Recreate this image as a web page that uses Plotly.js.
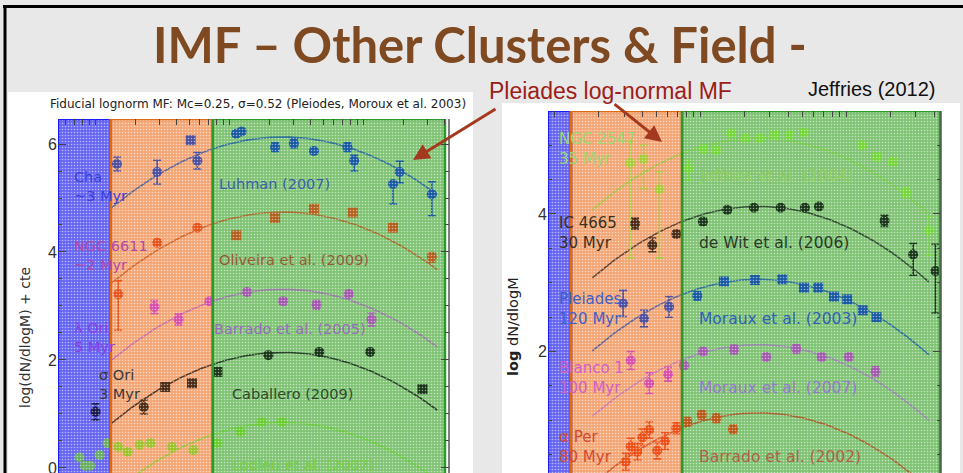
<!DOCTYPE html>
<html><head><meta charset="utf-8">
<script src="https://cdn.plot.ly/plotly-3.0.1.min.js"></script>
<style>html,body{margin:0;padding:0;background:#e8e8e8;}#chart{width:963px;height:473px;}</style>
</head><body><div id="chart"></div>
<script>
// ---------- model parameters (from the plot title) ----------
const Mc = 0.25;
const sigma = 0.52;

// ---------- mass regimes (log M boundaries) ----------
const regionEdgesLeft  = [-2.28, -1.886, -1.125, 0.608];
const regionEdgesRight = [-2.044, -1.886, -1.125, 0.643];

// ---------- LEFT PANEL data (log M, log dN/dlogM + cte) ----------
const chaLogM   = [-1.84, -1.54, -1.29, -1.24, -0.95, -0.91, -0.66, -0.52, -0.37, -0.12, -0.07, 0.22, 0.27, 0.51];
const chaVal    = [5.63, 5.48, 6.07, 5.69, 6.19, 6.23, 5.94, 6.01, 5.87, 5.94, 5.69, 5.26, 5.48, 5.07];
const chaErrHi  = [0.13, 0.22, 0.06, 0.15, 0.05, 0.05, 0.08, 0.08, 0.06, 0.08, 0.10, 0.04, 0.20, 0.23];
const chaErrLo  = [0.13, 0.22, 0.06, 0.15, 0.05, 0.05, 0.08, 0.08, 0.06, 0.08, 0.19, 0.37, 0.20, 0.40];

const ngcLogM   = [-1.83, -1.54, -1.24, -0.95, -0.66, -0.37, -0.08, 0.22, 0.51];
const ngcVal    = [3.22, 4.17, 4.45, 4.31, 4.63, 4.80, 4.73, 4.45, 3.91];
const ngcErrHi  = [0.25, 0.05, 0.05, 0.05, 0.05, 0.05, 0.05, 0.05, 0.07];
const ngcErrLo  = [0.67, 0.05, 0.05, 0.05, 0.05, 0.05, 0.05, 0.05, 0.10];

const lamLogM   = [-1.56, -1.38, -1.15, -0.87, -0.60, -0.35, -0.11, 0.06];
const lamVal    = [2.98, 2.75, 3.09, 3.26, 3.09, 3.02, 3.22, 2.75];
const lamErr    = [0.12, 0.10, 0.05, 0.05, 0.06, 0.08, 0.05, 0.12];

const sigLogM   = [-2.00, -1.64, -1.48, -1.28, -1.09, -0.71, -0.33, 0.05, 0.44];
const sigVal    = [1.04, 1.13, 1.50, 1.57, 1.78, 2.09, 2.15, 2.15, 1.46];
const sigErr    = [0.15, 0.13, 0.05, 0.05, 0.05, 0.03, 0.03, 0.03, 0.05];

const lodLogM   = [-2.12, -2.08, -2.04, -1.97, -1.91, -1.83, -1.76, -1.67, -1.59, -1.43, -1.27, -1.09, -0.92, -0.76, -0.61];
const lodVal    = [0.20, 0.04, 0.04, 0.24, 0.46, 0.39, 0.30, 0.43, 0.46, 0.39, 0.33, 0.46, 0.67, 0.85, 0.85];

const leftPeaks = [6.13, 4.74, 3.31, 2.14, 0.84];   // Cha, NGC6611, lambda Ori, sigma Ori, Lodieu
const leftCurveSpan = [-1.886, 0.55];

// ---------- RIGHT PANEL data ----------
const n2547LogM  = [-1.48, -1.39, -1.28, -1.08, -0.98, -0.89, -0.79, -0.69, -0.59, -0.49, -0.39, -0.29, 0.11, 0.21, 0.32, 0.41, 0.57];
const n2547Val   = [4.74, 4.80, 4.36, 4.66, 4.94, 4.93, 5.17, 5.10, 5.10, 5.15, 5.15, 5.18, 5.00, 4.83, 4.76, 4.31, 3.76];
const n2547ErrHi = [0.31, 0.20, 0.25, 0.12, 0.05, 0.05, 0.04, 0.04, 0.04, 0.04, 0.04, 0.04, 0.05, 0.05, 0.05, 0.07, 0.20];
const n2547ErrLo = [1.38, 0.43, 1.00, 0.17, 0.05, 0.05, 0.04, 0.04, 0.04, 0.04, 0.04, 0.04, 0.05, 0.05, 0.05, 0.07, 0.36];

const ic4665LogM  = [-1.447, -1.329, -1.164, -0.982, -0.815, -0.632, -0.449, -0.283, -0.187, 0.263, 0.459, 0.612];
const ic4665Val   = [3.86, 3.55, 3.71, 3.89, 4.06, 4.09, 4.09, 4.09, 4.11, 3.90, 3.41, 3.17];
const ic4665ErrHi = [0.08, 0.10, 0.05, 0.05, 0.03, 0.03, 0.03, 0.03, 0.03, 0.08, 0.16, 0.39];
const ic4665ErrLo = [0.08, 0.10, 0.05, 0.05, 0.03, 0.03, 0.03, 0.03, 0.03, 0.08, 0.30, 0.61];

const pleLogM = [-1.529, -1.386, -1.214, -1.021, -0.838, -0.625, -0.438, -0.29, -0.192, -0.084, 0.007, 0.114, 0.208];
const pleVal  = [2.70, 2.48, 2.65, 2.81, 3.02, 3.04, 3.05, 2.93, 2.93, 2.80, 2.76, 2.60, 2.50];
const pleErr  = [0.19, 0.12, 0.15, 0.06, 0.05, 0.05, 0.05, 0.03, 0.03, 0.03, 0.03, 0.03, 0.03];

const blaLogM = [-1.477, -1.351, -1.221, -1.112, -0.982, -0.769, -0.548, -0.342, -0.168, 0.018, 0.201];
const blaVal  = [1.87, 1.54, 1.67, 1.80, 2.00, 2.03, 1.92, 2.04, 1.92, 1.92, 1.71];
const blaErr  = [0.13, 0.15, 0.10, 0.05, 0.05, 0.06, 0.05, 0.06, 0.05, 0.05, 0.07];

const aperLogM = [-1.511, -1.477, -1.432, -1.397, -1.351, -1.295, -1.242, -1.164, -1.089, -0.99, -0.89, -0.776];
const aperVal  = [0.40, 0.62, 0.545, 0.755, 0.86, 0.56, 0.70, 0.885, 0.98, 1.08, 1.03, 0.87];
const aperErr  = [0.12, 0.12, 0.12, 0.12, 0.12, 0.12, 0.12, 0.08, 0.06, 0.06, 0.06, 0.06];

const rightPeaks = [5.10, 4.11, 3.05, 2.10, 1.11];  // NGC2547, IC4665, Pleiades, Blanco1, alpha Per
const rightCurveSpan = [-1.74, 0.566];

// ---------- text ----------
const slideTitle = 'IMF – Other Clusters &amp; Field -';
const leftPlotTitle = 'Fiducial lognorm MF: Mc=0.25, σ=0.52 (Pleiodes, Moroux et al. 2003)';
const leftYTitle = 'log(dN/dlogM) + cte';
const rightYTitle = '<b>log</b> dN/dlogM';
const leftClusterLabels = ['Cha<br>~3 Myr', 'NGC 6611<br>~2 Myr', 'λ Ori<br>5 Myr', 'σ Ori<br>3 Myr'];
const leftRefLabels = ['Luhman (2007)', 'Oliveira et al. (2009)', 'Barrado et al. (2005)', 'Caballero (2009)', 'Lodieu et al. (2007)'];
const rightClusterLabels = ['NGC 2547<br>35 Myr', 'IC 4665<br>30 Myr', 'Pleiades<br>120 Myr', 'Blanco 1<br>100 Myr', 'α Per<br>80 Myr'];
const rightRefLabels = ['Jeffries et al. (2004)', 'de Wit et al. (2006)', 'Moraux et al. (2003)', 'Moraux et al. (2007)', 'Barrado et al. (2002)'];

// =====================================================================
const W = 963, H = 473;
const LX = [-2.28, 0.638], LY = [-0.093, 6.463];
const RX = [-2.044, 0.650], RY = [0.235, 5.497];

function lognorm(peak, span) {
  const xs = [], ys = [], n = 80, lmc = Math.log10(Mc);
  for (let i = 0; i <= n; i++) {
    const x = span[0] + (span[1] - span[0]) * i / n;
    xs.push(x);
    ys.push(peak - Math.LOG10E * (x - lmc) * (x - lmc) / (2 * sigma * sigma));
  }
  return {xs, ys};
}

const regionUnder = ['#7e7ef8', '#f8bb98', '#a2d493'];
const regionOver  = ['rgba(40,40,230,0.28)', 'rgba(230,110,30,0.28)', 'rgba(40,150,40,0.28)'];
const regionLine  = ['#1a1aff', '#e06a10', '#2a9a2a'];

function regions(edges, yr, xa, ya, over) {
  const out = [];
  for (let i = 0; i < 3; i++) {
    const a = edges[i], b = edges[i + 1];
    const t = {
      type: 'scatter', mode: 'lines', xaxis: xa, yaxis: ya, hoverinfo: 'skip', showlegend: false,
      x: [a, b, b, a, a], y: [yr[0] - 1, yr[0] - 1, yr[1], yr[1], yr[0] - 1], fill: 'toself'
    };
    if (over) {
      t.fillcolor = regionOver[i];
      t.fillpattern = {shape: '.', fgcolor: '#ffffff', fgopacity: 0.55, size: 3, solidity: 0.22, bgcolor: regionOver[i]};
      t.line = {color: regionLine[i], width: 2.5};
    } else {
      t.fillcolor = regionUnder[i];
      t.line = {width: 0};
    }
    out.push(t);
  }
  return out;
}

function pts(x, y, hi, lo, color, symbols, xa, ya) {
  const t = {type: 'scatter', mode: 'markers', x, y, xaxis: xa, yaxis: ya, showlegend: false, hoverinfo: 'skip',
    marker: {color, size: 10, symbol: symbols || 'circle', line: {width: 0}}};
  if (hi) t.error_y = {type: 'data', symmetric: false, array: hi, arrayminus: lo || hi, color, thickness: 1.6, width: 4};
  return t;
}
function curve(peak, span, color, xa, ya) {
  const c = lognorm(peak, span);
  return {type: 'scatter', mode: 'lines', x: c.xs, y: c.ys, xaxis: xa, yaxis: ya, showlegend: false, hoverinfo: 'skip',
    line: {color, width: 1.6}};
}

const leftCurveColors  = ['#3060c0', '#d06030', '#c070d0', '#202020', '#80e040'];
const rightCurveColors = ['#90e050', '#303030', '#3060c0', '#c080e0', '#d05030'];

const C = 'circle', S = 'square';
const traces = [];
traces.push(...regions(regionEdgesLeft, LY, 'x', 'y', false));
traces.push(...regions(regionEdgesRight, RY, 'x2', 'y2', false));
leftPeaks.forEach((p, i) => traces.push(curve(p, leftCurveSpan, leftCurveColors[i], 'x', 'y')));
rightPeaks.forEach((p, i) => traces.push(curve(p, rightCurveSpan, rightCurveColors[i], 'x2', 'y2')));

traces.push(pts(chaLogM, chaVal, chaErrHi, chaErrLo, '#1040d0', [C,C,S,C,C,C,C,C,C,C,C,C,C,C], 'x', 'y'));
traces.push(pts(ngcLogM, ngcVal, ngcErrHi, ngcErrLo, '#e84818', [C,C,C,S,S,S,S,S,C], 'x', 'y'));
traces.push(pts(lamLogM, lamVal, lamErr, null, '#d040e0', null, 'x', 'y'));
traces.push(pts(sigLogM, sigVal, sigErr, null, '#101010', [C,C,S,S,S,C,C,C,S], 'x', 'y'));
traces.push(pts(lodLogM, lodVal, null, null, '#80e030', null, 'x', 'y'));

traces.push(pts(n2547LogM, n2547Val, n2547ErrHi, n2547ErrLo, '#90ee40', null, 'x2', 'y2'));
traces.push(pts(ic4665LogM, ic4665Val, ic4665ErrHi, ic4665ErrLo, '#101010', null, 'x2', 'y2'));
traces.push(pts(pleLogM, pleVal, pleErr, null, '#1040d0', [C,C,C,C,S,S,S,S,S,S,S,S,S], 'x2', 'y2'));
traces.push(pts(blaLogM, blaVal, blaErr, null, '#d040e0', null, 'x2', 'y2'));
traces.push(pts(aperLogM, aperVal, aperErr, null, '#f04010', null, 'x2', 'y2'));

traces.push(...regions(regionEdgesLeft, LY, 'x', 'y', true));
traces.push(...regions(regionEdgesRight, RY, 'x2', 'y2', true));

// top log-mass ticks
const topTicks = [];
for (let d = -3; d <= 0; d++) for (let k = 1; k <= 9; k++) topTicks.push(Math.log10(k * Math.pow(10, d)));

function xax(domain, range) {
  return {domain: domain.map(v => v / W), range, side: 'top', showgrid: false, zeroline: false, showline: false,
    showticklabels: false, ticks: 'inside', ticklen: 6, tickcolor: '#444', tickwidth: 1, tickmode: 'array', tickvals: topTicks, fixedrange: true};
}
function yax(domainTopPx, range, xa) {
  return {domain: [0, 1 - domainTopPx / H], range, anchor: xa, showgrid: false, zeroline: false, showline: false,
    ticks: 'inside', ticklen: 8, tickcolor: '#444', tickwidth: 1, mirror: 'ticks', tickmode: 'linear', tick0: 0, dtick: 2,
    ticklabeloverflow: 'allow',
    minor: {dtick: 0.5, ticks: 'inside', ticklen: 4, tickcolor: '#444'},
    tickfont: {family: 'Liberation Sans, Arial, sans-serif', size: 16, color: '#333'}, fixedrange: true};
}

const fontLbl = 'DejaVu Sans, sans-serif';
const ann = [];
function P(px, py) { return {x: px / W, y: 1 - py / H, xref: 'paper', yref: 'paper'}; }

ann.push(Object.assign(P(480, 44), {text: '<b>' + slideTitle + '</b>', showarrow: false, xanchor: 'center', yanchor: 'middle',
  font: {family: 'Lato, sans-serif', size: 49, color: '#7f4a22'}}));
ann.push(Object.assign(P(487, 91), {text: 'Pleiades log-normal MF', showarrow: false, xanchor: 'left', yanchor: 'middle',
  font: {family: 'Liberation Sans, Arial, sans-serif', size: 23, color: '#9b2018'}}));
ann.push(Object.assign(P(806, 89), {text: 'Jeffries (2012)', showarrow: false, xanchor: 'left', yanchor: 'middle',
  font: {family: 'Liberation Sans, Arial, sans-serif', size: 20, color: '#111'}}));
ann.push(Object.assign(P(258, 104), {text: leftPlotTitle, showarrow: false, xanchor: 'center', yanchor: 'middle',
  font: {family: fontLbl, size: 12, color: '#222'}}));
ann.push(Object.assign(P(25, 338), {text: leftYTitle, textangle: -90, showarrow: false, xanchor: 'center', yanchor: 'middle',
  font: {family: fontLbl, size: 14, color: '#333'}}));
ann.push(Object.assign(P(513, 327), {text: rightYTitle, textangle: -90, showarrow: false, xanchor: 'center', yanchor: 'middle',
  font: {family: fontLbl, size: 14.5, color: '#222'}}));
// arrows
ann.push(Object.assign(P(413, 160), {text: '', showarrow: true, ax: 84, ay: -52, arrowhead: 2, arrowsize: 1.1, arrowwidth: 3, arrowcolor: '#a3391f'}));
ann.push(Object.assign(P(662, 142), {text: '', showarrow: true, ax: -49, ay: -39, arrowhead: 2, arrowsize: 1.1, arrowwidth: 3, arrowcolor: '#a3391f'}));

// in-plot labels (data coordinates)
const leftClusterPos = [[-2.176, 5.21], [-2.176, 3.93], [-2.176, 2.42], [-1.989, 1.54]];
const leftClusterCol = ['#3a40d8', '#b04aa8', '#8a40e0', '#3a3a3a'];
leftClusterLabels.forEach((t, i) => ann.push({x: leftClusterPos[i][0], y: leftClusterPos[i][1], xref: 'x', yref: 'y', text: t,
  showarrow: false, xanchor: 'left', yanchor: 'middle', align: 'left', font: {family: fontLbl, size: 14.5, color: leftClusterCol[i]}}));
const leftRefPos = [[-1.093, 5.26], [-1.093, 3.85], [-1.131, 2.57], [-0.996, 1.37], [-0.996, 0.056]];
const leftRefCol = ['#3c5ea8', '#9a5a38', '#9a6ac0', '#2e4a2e', '#78d040'];
leftRefLabels.forEach((t, i) => ann.push({x: leftRefPos[i][0], y: leftRefPos[i][1], xref: 'x', yref: 'y', text: t,
  showarrow: false, xanchor: 'left', yanchor: 'middle', font: {family: fontLbl, size: 14.5, color: leftRefCol[i]}}));

const rightClusterPos = [[-1.982, 4.94], [-1.982, 3.72], [-1.982, 2.62], [-1.982, 1.62], [-1.982, 0.61]];
const rightClusterCol = ['#9ad870', '#3a3020', '#4060c8', '#d060c8', '#d04a30'];
rightClusterLabels.forEach((t, i) => ann.push({x: rightClusterPos[i][0], y: rightClusterPos[i][1], xref: 'x2', yref: 'y2', text: t,
  showarrow: false, xanchor: 'left', yanchor: 'middle', align: 'left', font: {family: fontLbl, size: 15, color: rightClusterCol[i]}}));
const rightRefPos = [[-1.023, 4.55], [-1.023, 3.58], [-1.023, 2.47], [-1.023, 1.47], [-1.023, 0.47]];
const rightRefCol = ['#90d060', '#2a3a2a', '#3060b8', '#9a78d0', '#b06048'];
rightRefLabels.forEach((t, i) => ann.push({x: rightRefPos[i][0], y: rightRefPos[i][1], xref: 'x2', yref: 'y2', text: t,
  showarrow: false, xanchor: 'left', yanchor: 'middle', font: {family: fontLbl, size: 15.5, color: rightRefCol[i]}}));

const shapes = [
  {type: 'rect', xref: 'paper', yref: 'paper', x0: 8 / W, x1: 473 / W, y0: 0, y1: 1 - 92 / H, fillcolor: '#ffffff', line: {width: 0}, layer: 'below'},
  {type: 'rect', xref: 'paper', yref: 'paper', x0: 502 / W, x1: 960 / W, y0: 0, y1: 1 - 103 / H, fillcolor: '#ffffff', line: {width: 0}, layer: 'below'},
  {type: 'line', xref: 'paper', yref: 'paper', x0: 3 / W, x1: 1, y0: 1 - 6.5 / H, y1: 1 - 6.5 / H, line: {color: '#000', width: 3}},
  {type: 'line', xref: 'paper', yref: 'paper', x0: 5 / W, x1: 5 / W, y0: 0, y1: 1 - 5 / H, line: {color: '#000', width: 3}},
  {type: 'line', xref: 'x domain', yref: 'y domain', x0: 1, x1: 1, y0: 0, y1: 1, line: {color: '#555', width: 1.5}},
  {type: 'line', xref: 'x2 domain', yref: 'y2 domain', x0: 1, x1: 1, y0: 0, y1: 1, line: {color: '#555', width: 1.5}}
];

const layout = {
  width: W, height: H, margin: {l: 0, r: 0, t: 0, b: 0}, autosize: false,
  paper_bgcolor: '#e8e8e8', plot_bgcolor: 'rgba(0,0,0,0)', showlegend: false,
  xaxis: xax([58, 449], LX), yaxis: yax(119, LY, 'x'),
  xaxis2: xax([548, 941], RX), yaxis2: yax(111, RY, 'x2'),
  annotations: ann, shapes
};
layout.xaxis.anchor = 'y';
layout.xaxis2.anchor = 'y2';

Plotly.newPlot('chart', traces, layout, {staticPlot: true, displayModeBar: false});
</script></body></html>
